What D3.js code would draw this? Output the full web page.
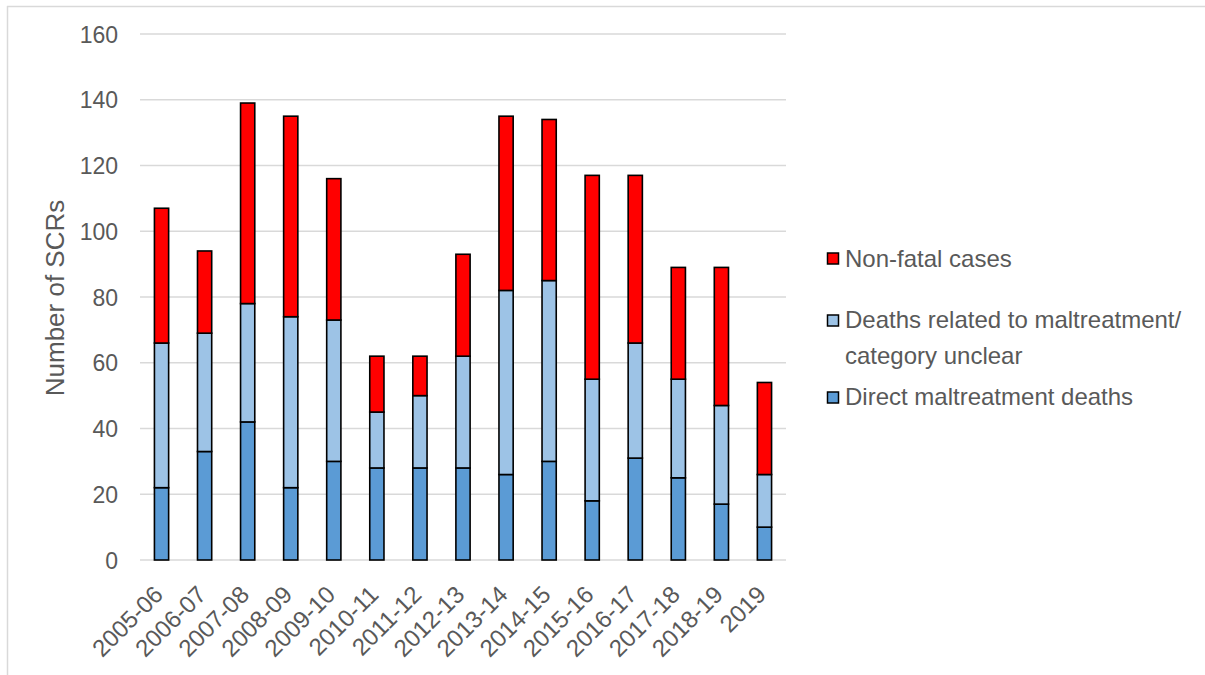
<!DOCTYPE html>
<html>
<head>
<meta charset="utf-8">
<script src="https://cdn.jsdelivr.net/npm/d3@7"></script>
<style>
  html, body { margin: 0; padding: 0; background: #fff; }
  svg { display: block; font-family: "Liberation Sans", Arial, sans-serif; }
</style>
</head>
<body>
<svg id="chart" width="1205" height="675"></svg>
<script>
const categories = ["2005-06","2006-07","2007-08","2008-09","2009-10","2010-11","2011-12","2012-13","2013-14","2014-15","2015-16","2016-17","2017-18","2018-19","2019"];
const directDeaths   = [22, 33, 42, 22, 30, 28, 28, 28, 26, 30, 18, 31, 25, 17, 10];
const relatedDeaths  = [44, 36, 36, 52, 43, 17, 22, 34, 56, 55, 37, 35, 30, 30, 16];
const nonFatal       = [41, 25, 61, 61, 43, 17, 12, 31, 53, 49, 62, 51, 34, 42, 28];
const yTicks = [0, 20, 40, 60, 80, 100, 120, 140, 160];
const seriesNames = ["Direct maltreatment deaths", "Deaths related to maltreatment/ category unclear", "Non-fatal cases"];

const colors = { direct: "#5B9BD5", related: "#9DC3E6", nonfatal: "#FF0000" };
const textColor = "#595959";

const svg = d3.select("#chart");

// outer border (top and left visible)
svg.append("line").attr("x1", 7).attr("x2", 1205).attr("y1", 6.5).attr("y2", 6.5)
  .attr("stroke", "#d9d9d9").attr("stroke-width", 1.5);
svg.append("line").attr("x1", 7.5).attr("x2", 7.5).attr("y1", 6).attr("y2", 675)
  .attr("stroke", "#d9d9d9").attr("stroke-width", 1.5);

const x = d3.scaleBand().domain(categories).range([140, 786]).paddingInner(0.67).paddingOuter(0.335);
const y = d3.scaleLinear().domain([0, 160]).range([560, 34]);

// gridlines
svg.append("g").selectAll("line").data(yTicks).join("line")
  .attr("x1", 140).attr("x2", 786)
  .attr("y1", d => y(d)).attr("y2", d => y(d))
  .attr("stroke", "#d9d9d9").attr("stroke-width", 1.5);

// y axis labels
const yAxis = d3.axisLeft(y).tickValues(yTicks).tickSize(0).tickPadding(0);
const yg = svg.append("g").attr("transform", "translate(118,0)").call(yAxis);
yg.select(".domain").remove();
yg.selectAll("text").attr("fill", textColor).attr("font-size", 23)
  .attr("font-family", "Liberation Sans, Arial, sans-serif").attr("dy", "0.35em");

// stacked data
const rows = categories.map((c, i) => ({ cat: c, direct: directDeaths[i], related: relatedDeaths[i], nonfatal: nonFatal[i] }));
const stack = d3.stack().keys(["direct", "related", "nonfatal"]);
const stacked = stack(rows);

svg.append("g").selectAll("g").data(stacked).join("g")
  .attr("fill", d => colors[d.key])
  .selectAll("rect").data(d => d).join("rect")
  .attr("x", d => x(d.data.cat))
  .attr("width", x.bandwidth())
  .attr("y", d => y(d[1]))
  .attr("height", d => y(d[0]) - y(d[1]))
  .attr("stroke", "#000").attr("stroke-width", 1.6);

// x axis labels
const xAxis = d3.axisBottom(x).tickSize(0).tickPadding(0);
const xg = svg.append("g").attr("transform", "translate(0,560)").call(xAxis);
xg.select(".domain").remove();
xg.selectAll(".tick text")
  .attr("fill", textColor).attr("font-size", 24)
  .attr("font-family", "Liberation Sans, Arial, sans-serif")
  .attr("text-anchor", "end")
  .attr("dy", null).attr("y", 0)
  .attr("transform", "translate(3,36) rotate(-45)");

// y title
svg.append("text")
  .attr("transform", "translate(64,298) rotate(-90)")
  .attr("text-anchor", "middle")
  .attr("fill", textColor).attr("font-size", 26)
  .text("Number of SCRs");

// legend
const legendItems = [
  { key: "nonfatal", lines: ["Non-fatal cases"], sq: 253, base: 267 },
  { key: "related", lines: ["Deaths related to maltreatment/", "category unclear"], sq: 315, base: 328 },
  { key: "direct", lines: ["Direct maltreatment deaths"], sq: 392, base: 405 }
];
const lg = svg.append("g");
legendItems.forEach(it => {
  lg.append("rect").attr("x", 827.5).attr("y", it.sq).attr("width", 11).attr("height", 11)
    .attr("fill", colors[it.key]).attr("stroke", "#000").attr("stroke-width", 1.5);
  const t = lg.append("text").attr("x", 845).attr("y", it.base)
    .attr("fill", textColor).attr("font-size", 24);
  it.lines.forEach((ln, j) => {
    t.append("tspan").attr("x", 845).attr("dy", j === 0 ? 0 : 36).text(ln);
  });
});
</script>
</body>
</html>
